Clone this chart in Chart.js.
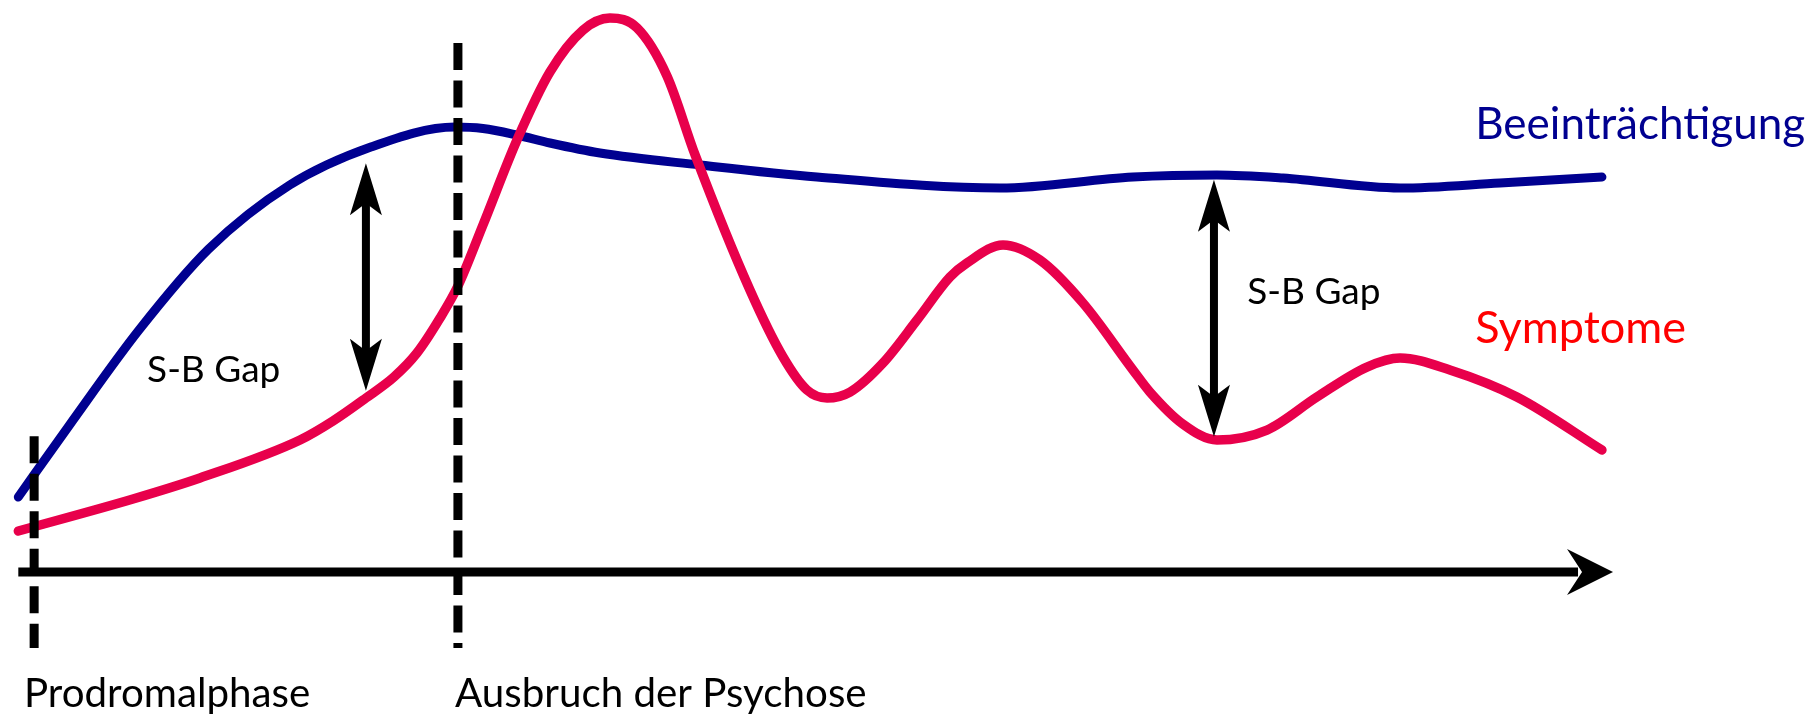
<!DOCTYPE html>
<html>
<head>
<meta charset="utf-8">
<script src="https://cdn.jsdelivr.net/npm/chart.js@4.4.1/dist/chart.umd.min.js"></script>
<style>
  html, body { margin: 0; padding: 0; background: #fff; }
  #wrap { width: 1817px; height: 717px; }
</style>
</head>
<body>
<div id="wrap"><canvas id="sbGap"></canvas></div>
<script>
// time runs 0..100 (arbitrary units), level 0 = time axis, 100 = symptom peak
const impairTime  = [0, 3.23, 7.62, 12.02, 17.14, 22.26, 27.57, 29.34, 31.49, 33.57, 36.73, 43.04, 50.43, 61.99, 70.39, 75.69, 79.86, 87.25, 93.56, 100];
const impairLevel = [13.54, 26.53, 43.68, 58.3, 69.86, 76.71, 80.32, 80.05, 78.88, 77.44, 75.63, 73.47, 71.3, 69.31, 71.3, 71.66, 71.12, 69.31, 70.22, 71.3];

const symptTime  = [0, 7.24, 11.47, 17.79, 19.87, 21.95, 23.72, 25.17, 26.63, 27.76, 29.34, 31.49, 33.57, 35.66, 37.36, 39.07, 40.96, 42.74, 46.2, 48.29, 49.8, 51.07, 52.52, 54.6, 56.75, 58.83, 59.9, 62.18, 64.51, 67.23, 70.39, 71.46, 73.54, 75.69, 78.85, 82.0, 85.16, 87.25, 90.4, 94.63, 100];
const symptLevel = [7.4, 13.18, 16.97, 23.83, 27.26, 31.41, 35.2, 39.53, 45.85, 51.62, 62.64, 77.98, 90.25, 97.83, 100, 98.2, 89.53, 75.27, 50.9, 38.81, 32.85, 31.41, 32.49, 37.73, 45.49, 53.25, 55.78, 59.03, 56.32, 48.56, 36.46, 32.49, 26.71, 23.83, 25.63, 31.59, 37.0, 38.63, 36.46, 31.59, 22.02];

const seriesNames = ['Beeinträchtigung', 'Symptome'];
const seriesLabelAt = [[92.0, 78.2], [92.0, 41.3]];

const phaseTimes  = [1.0, 27.76];
const phaseTop    = [24.5, 95.5];
const phaseBottom = -13.7;
const phaseLabels = ['Prodromalphase', 'Ausbruch der Psychose'];
const phaseLabelAt = [[0.36, -24.4], [27.58, -24.4]];

const gapTimes = [21.95, 75.5];
const gapLow   = [32.7, 24.4];
const gapHigh  = [73.8, 70.8];
const gapLabel = 'S-B Gap';
const gapLabelAt = [[8.13, 34.3], [77.6, 48.4]];

const axisEnd = 100.7;

const toPoints = (t, v) => t.map((e, i) => ({ x: e, y: v[i] }));

const arrowHead = (ctx, tx, ty, dx, dy, len, half, notch) => {
	const bx = tx - dx * len, by = ty - dy * len;
	const nx = -dy, ny = dx;
	ctx.beginPath();
	ctx.moveTo(tx, ty);
	ctx.lineTo(bx + nx * half, by + ny * half);
	ctx.lineTo(tx - dx * notch, ty - dy * notch);
	ctx.lineTo(bx - nx * half, by - ny * half);
	ctx.closePath();
	ctx.fill();
};

const overlay = {
	id: 'overlay',
	afterDatasetsDraw(chart) {
		const { ctx, scales: { x, y } } = chart;
		ctx.save();
		ctx.strokeStyle = '#000';
		ctx.fillStyle = '#000';

		// time axis with arrow
		const y0 = y.getPixelForValue(0);
		const xe = x.getPixelForValue(axisEnd);
		ctx.lineWidth = 9;
		ctx.beginPath();
		ctx.moveTo(x.getPixelForValue(0), y0);
		ctx.lineTo(xe - 35, y0);
		ctx.stroke();
		arrowHead(ctx, xe, y0, 1, 0, 46, 23, 31);

		// phase markers
		ctx.setLineDash([27, 10.5]);
		phaseTimes.forEach((t, i) => {
			const px = x.getPixelForValue(t);
			ctx.beginPath();
			ctx.moveTo(px, y.getPixelForValue(phaseTop[i]));
			ctx.lineTo(px, y.getPixelForValue(phaseBottom));
			ctx.stroke();
		});
		ctx.setLineDash([]);

		// gap arrows
		gapTimes.forEach((t, i) => {
			const px = x.getPixelForValue(t);
			const top = y.getPixelForValue(gapHigh[i]);
			const bot = y.getPixelForValue(gapLow[i]);
			ctx.lineWidth = 8;
			ctx.beginPath();
			ctx.moveTo(px, top + 30);
			ctx.lineTo(px, bot - 30);
			ctx.stroke();
			arrowHead(ctx, px, top, 0, -1, 52, 16, 40);
			arrowHead(ctx, px, bot, 0, 1, 52, 16, 40);
		});

		// texts
		ctx.textBaseline = 'alphabetic';
		ctx.textAlign = 'left';
		ctx.fillStyle = '#000';
		ctx.font = '37px Lato';
		gapLabelAt.forEach(p => ctx.fillText(gapLabel, x.getPixelForValue(p[0]), y.getPixelForValue(p[1])));
		ctx.font = '40.3px Lato';
		phaseLabels.forEach((s, i) => ctx.fillText(s, x.getPixelForValue(phaseLabelAt[i][0]), y.getPixelForValue(phaseLabelAt[i][1])));

		const nameColors = ['#000090', '#ff0000'];
		const nameSizes = [44, 45];
		seriesNames.forEach((s, i) => {
			ctx.font = nameSizes[i] + 'px Lato';
			ctx.fillStyle = nameColors[i];
			ctx.fillText(s, x.getPixelForValue(seriesLabelAt[i][0]), y.getPixelForValue(seriesLabelAt[i][1]));
		});
		ctx.restore();
	}
};

new Chart(document.getElementById('sbGap'), {
	type: 'line',
	data: {
		datasets: [
			{
				label: seriesNames[0],
				data: toPoints(impairTime, impairLevel),
				borderColor: '#000090',
				borderWidth: 9,
				borderCapStyle: 'round',
				cubicInterpolationMode: 'monotone',
				pointRadius: 0,
				clip: false,
				order: 2
			},
			{
				label: seriesNames[1],
				data: toPoints(symptTime, symptLevel),
				borderColor: '#e8004b',
				borderWidth: 9.5,
				borderCapStyle: 'round',
				cubicInterpolationMode: 'monotone',
				pointRadius: 0,
				clip: false,
				order: 1
			}
		]
	},
	options: {
		responsive: true,
		maintainAspectRatio: false,
		animation: false,
		layout: { padding: 0 },
		plugins: {
			legend: { display: false },
			tooltip: { enabled: false }
		},
		scales: {
			x: { type: 'linear', display: false, min: -1.156, max: 113.58 },
			y: { type: 'linear', display: false, min: -26.17, max: 103.25 }
		}
	},
	plugins: [overlay]
});
</script>
</body>
</html>
